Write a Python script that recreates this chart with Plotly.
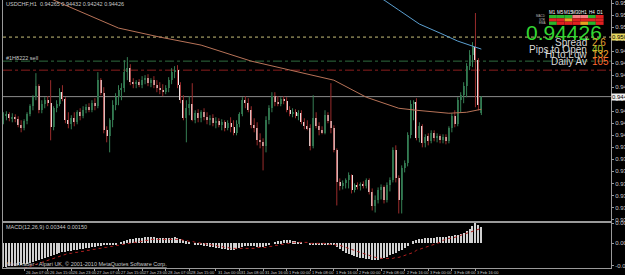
import plotly.graph_objects as go

# ---------------- data ----------------
bars = list(range(164))
opens = [0.9424,0.9419,0.9423,0.9425,0.9421,0.9422,0.9420,0.9414,0.9411,0.9418,
         0.9425,0.9433,0.9442,0.9453,0.9429,0.9435,0.9439,0.9436,0.9412,0.9431,
         0.9435,0.9447,0.9440,0.9419,0.9415,0.9421,0.9417,0.9427,0.9423,0.9429,
         0.9432,0.9429,0.9436,0.9433,0.9459,0.9446,0.9409,0.9403,0.9419,0.9434,
         0.9442,0.9449,0.9451,0.9467,0.9471,0.9457,0.9455,0.9457,0.9454,0.9459,
         0.9461,0.9456,0.9459,0.9454,0.9451,0.9449,0.9447,0.9451,0.9459,0.9467,
         0.9469,0.9454,0.9439,0.9421,0.9431,0.9435,0.9419,0.9426,0.9421,0.9427,
         0.9422,0.9419,0.9421,0.9416,0.9418,0.9414,0.9417,0.9411,0.9416,0.9412,
         0.9406,0.9415,0.9425,0.9439,0.9436,0.9429,0.9414,0.9411,0.9399,0.9397,
         0.9393,0.9419,0.9431,0.9443,0.9437,0.9435,0.9440,0.9438,0.9429,0.9425,
         0.9427,0.9423,0.9426,0.9417,0.9413,0.9411,0.9393,0.9421,0.9413,0.9409,
         0.9406,0.9424,0.9418,0.9411,0.9389,0.9357,0.9353,0.9356,0.9359,0.9364,
         0.9349,0.9354,0.9353,0.9355,0.9353,0.9359,0.9347,0.9333,0.9339,0.9349,
         0.9352,0.9339,0.9354,0.9359,0.9389,0.9361,0.9339,0.9371,0.9376,0.9404,
         0.9435,0.9437,0.9401,0.9413,0.9396,0.9403,0.9398,0.9406,0.9401,0.9403,
         0.9399,0.9402,0.9398,0.9411,0.9423,0.9415,0.9439,0.9444,0.9453,0.9473,
         0.9484,0.9492,0.9479,0.94265]
highs = [0.9429,0.9427,0.9428,0.9427,0.9426,0.9425,0.9423,0.9419,0.9420,0.9427,
         0.9435,0.9444,0.9466,0.9455,0.9439,0.9442,0.9443,0.9459,0.9433,0.9439,
         0.9451,0.9454,0.9442,0.9427,0.9424,0.9427,0.9429,0.9431,0.9433,0.9435,
         0.9436,0.9439,0.9441,0.9467,0.9461,0.9452,0.9413,0.9421,0.9439,0.9446,
         0.9454,0.9456,0.9479,0.9482,0.9475,0.9461,0.9459,0.9460,0.9463,0.9464,
         0.9465,0.9461,0.9463,0.9459,0.9457,0.9455,0.9454,0.9462,0.9471,0.9473,
         0.9474,0.9457,0.9444,0.9439,0.9443,0.9456,0.9429,0.9430,0.9429,0.9431,
         0.9427,0.9424,0.9425,0.9422,0.9421,0.9420,0.9419,0.9419,0.9422,0.9419,
         0.9419,0.9427,0.9442,0.9443,0.9441,0.9433,0.9421,0.9417,0.9406,0.9401,
         0.9423,0.9434,0.9447,0.9447,0.9443,0.9442,0.9443,0.9442,0.9433,0.9431,
         0.9430,0.9429,0.9429,0.9421,0.9419,0.9415,0.9444,0.9427,0.9417,0.9413,
         0.9429,0.9427,0.9456,0.9414,0.9391,0.9361,0.9359,0.9361,0.9367,0.9365,
         0.9356,0.9357,0.9357,0.9358,0.9361,0.9361,0.9351,0.9344,0.9352,0.9355,
         0.9354,0.9357,0.9362,0.9392,0.9394,0.9364,0.9374,0.9379,0.9407,0.9439,
         0.9439,0.9441,0.9417,0.9415,0.9405,0.9406,0.9409,0.9409,0.9406,0.9405,
         0.9405,0.9405,0.9413,0.9426,0.9429,0.9442,0.9447,0.9457,0.9476,0.9489,
         0.9497,0.9526,0.9481,0.94432]
lows =  [0.9414,0.9415,0.9419,0.9418,0.9417,0.9417,0.9412,0.9407,0.9409,0.9415,
         0.9423,0.9429,0.9439,0.9426,0.9426,0.9431,0.9433,0.9399,0.9409,0.9427,
         0.9433,0.9438,0.9416,0.9411,0.9410,0.9413,0.9415,0.9419,0.9421,0.9426,
         0.9427,0.9427,0.9429,0.9431,0.9444,0.9406,0.9397,0.9387,0.9412,0.9429,
         0.9434,0.9439,0.9447,0.9459,0.9454,0.9451,0.9451,0.9452,0.9451,0.9455,
         0.9453,0.9452,0.9451,0.9447,0.9445,0.9443,0.9445,0.9447,0.9455,0.9461,
         0.9451,0.9436,0.9419,0.9397,0.9424,0.9418,0.9416,0.9417,0.9417,0.9419,
         0.9415,0.9414,0.9413,0.9411,0.9412,0.9409,0.9408,0.9409,0.9407,0.9404,
         0.9404,0.9412,0.9423,0.9431,0.9427,0.9411,0.9407,0.9394,0.9391,0.9369,
         0.9387,0.9415,0.9427,0.9433,0.9433,0.9433,0.9435,0.9427,0.9423,0.9422,
         0.9421,0.9419,0.9415,0.9410,0.9409,0.9389,0.9391,0.9411,0.9404,0.9405,
         0.9405,0.9416,0.9406,0.9387,0.9334,0.9349,0.9350,0.9351,0.9351,0.9346,
         0.9347,0.9350,0.9349,0.9351,0.9351,0.9345,0.9329,0.9327,0.9336,0.9340,
         0.9336,0.9337,0.9348,0.9357,0.9357,0.9326,0.9326,0.9367,0.9373,0.9401,
         0.9419,0.9399,0.9397,0.9392,0.9392,0.9394,0.9396,0.9398,0.9397,0.9396,
         0.9396,0.9395,0.9396,0.9407,0.9412,0.9413,0.9427,0.9436,0.9442,0.9469,
         0.9472,0.9432,0.9429,0.94242]
closes = [0.9419,0.9423,0.9425,0.9421,0.9422,0.9420,0.9414,0.9411,0.9418,0.9425,
          0.9433,0.9442,0.9453,0.9429,0.9435,0.9439,0.9436,0.9412,0.9431,0.9435,
          0.9447,0.9440,0.9419,0.9415,0.9421,0.9417,0.9427,0.9423,0.9429,0.9432,
          0.9429,0.9436,0.9433,0.9459,0.9446,0.9409,0.9403,0.9419,0.9434,0.9442,
          0.9449,0.9451,0.9467,0.9471,0.9457,0.9455,0.9457,0.9454,0.9459,0.9461,
          0.9456,0.9459,0.9454,0.9451,0.9449,0.9447,0.9451,0.9459,0.9467,0.9469,
          0.9454,0.9439,0.9421,0.9431,0.9435,0.9419,0.9426,0.9421,0.9427,0.9422,
          0.9419,0.9421,0.9416,0.9418,0.9414,0.9417,0.9411,0.9416,0.9412,0.9406,
          0.9415,0.9425,0.9439,0.9436,0.9429,0.9414,0.9411,0.9399,0.9397,0.9393,
          0.9419,0.9431,0.9443,0.9437,0.9435,0.9440,0.9438,0.9429,0.9425,0.9427,
          0.9423,0.9426,0.9417,0.9413,0.9411,0.9393,0.9421,0.9413,0.9409,0.9406,
          0.9424,0.9418,0.9411,0.9389,0.9357,0.9353,0.9356,0.9359,0.9364,0.9349,
          0.9354,0.9353,0.9355,0.9353,0.9359,0.9347,0.9333,0.9339,0.9349,0.9352,
          0.9339,0.9354,0.9359,0.9389,0.9361,0.9339,0.9371,0.9376,0.9404,0.9435,
          0.9437,0.9401,0.9413,0.9396,0.9402,0.9398,0.9406,0.9401,0.9403,0.9399,
          0.9402,0.9398,0.9411,0.9423,0.9415,0.9439,0.9444,0.9453,0.9473,0.9484,
          0.9492,0.9479,0.9434,0.94426]

# moving averages (read at sample bars)
ma_slow_x = [14, 18, 30, 40, 54, 68, 85, 101, 113, 124, 135, 141, 152, 158, 163]
ma_slow_y = [0.9544, 0.9539, 0.9524, 0.9511, 0.9502, 0.9494, 0.9478, 0.9467, 0.9459,
             0.9442, 0.9431, 0.9429, 0.9426, 0.9427, 0.9430]
ma_fast_x = [128, 130, 135, 142, 149, 155, 160, 163]
ma_fast_y = [0.9542, 0.9539, 0.9529, 0.9515, 0.9506, 0.9498, 0.9493, 0.9490]

# MACD(12,26,9)
macd = [-0.00293,-0.00293,-0.00293,-0.00281,-0.00281,-0.00281,-0.00268,-0.00268,-0.00256,-0.00256,
        -0.00244,-0.00232,-0.00220,-0.00207,-0.00195,-0.00183,-0.00171,-0.00159,-0.00146,-0.00134,
        -0.00122,-0.00110,-0.00110,-0.00098,-0.00098,-0.00085,-0.00085,-0.00073,-0.00073,-0.00061,
        -0.00061,-0.00049,-0.00049,-0.00037,-0.00037,-0.00024,-0.00024,-0.00024,-0.00012,-0.00012,
        0.00000,0.00012,0.00024,0.00037,0.00049,0.00049,0.00061,0.00061,0.00061,0.00073,
        0.00073,0.00073,0.00073,0.00061,0.00061,0.00061,0.00061,0.00061,0.00061,0.00073,
        0.00061,0.00049,0.00037,0.00024,0.00012,0.00000,-0.00012,-0.00024,-0.00024,-0.00037,
        -0.00037,-0.00049,-0.00049,-0.00061,-0.00061,-0.00073,-0.00073,-0.00085,-0.00085,-0.00085,
        -0.00073,-0.00061,-0.00049,-0.00037,-0.00037,-0.00037,-0.00037,-0.00049,-0.00049,-0.00049,
        -0.00037,-0.00024,0.00000,0.00012,0.00024,0.00024,0.00037,0.00037,0.00037,0.00024,
        0.00024,0.00012,0.00012,0.00000,0.00000,-0.00012,-0.00012,-0.00012,-0.00012,-0.00012,
        -0.00012,-0.00012,-0.00012,-0.00024,-0.00049,-0.00073,-0.00098,-0.00122,-0.00134,-0.00146,
        -0.00159,-0.00171,-0.00183,-0.00183,-0.00195,-0.00195,-0.00207,-0.00207,-0.00207,-0.00195,
        -0.00183,-0.00171,-0.00146,-0.00134,-0.00122,-0.00098,-0.00085,-0.00061,-0.00037,0.00000,
        0.00024,0.00037,0.00049,0.00049,0.00061,0.00061,0.00061,0.00061,0.00073,0.00073,
        0.00073,0.00073,0.00085,0.00085,0.00098,0.00098,0.00110,0.00122,0.00146,0.00171,
        0.00207,0.00244,0.00220,0.00195]
signal = [-0.00366,-0.00366,-0.00354,-0.00354,-0.00342,-0.00342,-0.00329,-0.00317,-0.00305,-0.00293,
          -0.00281,-0.00268,-0.00256,-0.00244,-0.00232,-0.00220,-0.00207,-0.00195,-0.00183,-0.00171,
          -0.00159,-0.00146,-0.00134,-0.00122,-0.00122,-0.00110,-0.00110,-0.00098,-0.00098,-0.00085,
          -0.00085,-0.00073,-0.00073,-0.00061,-0.00061,-0.00049,-0.00049,-0.00037,-0.00037,-0.00024,
          -0.00024,-0.00012,-0.00012,0.00000,0.00000,0.00012,0.00012,0.00024,0.00024,0.00037,
          0.00037,0.00049,0.00049,0.00049,0.00049,0.00049,0.00049,0.00049,0.00049,0.00049,
          0.00049,0.00049,0.00037,0.00037,0.00024,0.00024,0.00012,0.00012,0.00000,0.00000,
          -0.00012,-0.00012,-0.00024,-0.00024,-0.00037,-0.00037,-0.00049,-0.00049,-0.00061,-0.00061,
          -0.00061,-0.00061,-0.00061,-0.00061,-0.00061,-0.00061,-0.00061,-0.00049,-0.00049,-0.00049,
          -0.00049,-0.00037,-0.00037,-0.00024,-0.00024,-0.00012,-0.00012,0.00000,0.00000,0.00012,
          0.00012,0.00012,0.00012,0.00012,0.00012,0.00000,0.00000,0.00000,0.00000,0.00000,
          0.00000,-0.00012,-0.00012,-0.00012,-0.00024,-0.00024,-0.00037,-0.00049,-0.00061,-0.00073,
          -0.00085,-0.00098,-0.00110,-0.00122,-0.00134,-0.00146,-0.00159,-0.00171,-0.00171,-0.00183,
          -0.00183,-0.00183,-0.00183,-0.00183,-0.00171,-0.00171,-0.00159,-0.00146,-0.00134,-0.00122,
          -0.00110,-0.00085,-0.00073,-0.00061,-0.00049,-0.00037,-0.00024,-0.00012,0.00000,0.00012,
          0.00037,0.00049,0.00061,0.00061,0.00073,0.00085,0.00098,0.00110,0.00122,0.00134,
          0.00146,0.00159,0.00171,0.00183]

date_bars = [0, 8, 16, 24, 32, 40, 48, 56, 64, 73, 81, 89, 97, 105, 113, 121, 129, 137, 145, 153, 161]
date_labels = ["25 Jan 2011", "26 Jan 07:00", "26 Jan 15:00", "26 Jan 23:00", "27 Jan 07:00",
               "27 Jan 15:00", "27 Jan 23:00", "28 Jan 07:00", "28 Jan 15:00", "31 Jan 00:00",
               "31 Jan 08:00", "31 Jan 16:00", "1 Feb 00:00", "1 Feb 08:00", "1 Feb 16:00",
               "2 Feb 00:00", "2 Feb 08:00", "2 Feb 16:00", "3 Feb 00:00", "3 Feb 08:00", "3 Feb 16:00"]

price_ticks = [0.9320, 0.9332, 0.9344, 0.9356, 0.9368, 0.9380, 0.9392, 0.9404, 0.9416, 0.9428,
               0.9440, 0.9452, 0.9464, 0.9476, 0.9488, 0.9500, 0.9512, 0.9524, 0.9536]
bid = 0.94426
level_yellow = 0.9502
level_green = 0.9478
level_red = 0.9469
macd_ticks = [0.00246, 0.0, -0.00273]
macd_tick_text = ["0.00246", "0.00", "-0.00273"]

panel_rows = ["MACD", "STR", "EMA"]
panel_cols = ["M1", "M5", "M15", "M30", "H1", "H4", "D1"]
panel_colors = [["#2bb52b", "#2bb52b", "#2bb52b", "#f08080", "#f08080", "#2bb52b", "#e02020"],
                ["#e02020", "#e02020", "#e8a020", "#e02020", "#e02020", "#e02020", "#e02020"],
                ["#2bb52b", "#e02020", "#e02020", "#e02020", "#e8a020", "#2bb52b", "#e02020"]]
info_labels = ["Spread", "Pips to Open", "Hi to Low", "Daily Av"]
info_values = ["2.6", "40", "132", "105"]
info_colors = ["#e0a030", "#a8d030", "#f0a030", "#ff6a30"]

# ---------------- figure ----------------
BULL_BODY, BULL_WICK = "#2b6645", "#367f54"
BEAR_BODY, BEAR_WICK = "#f3ecec", "#9a2c2c"
GRID = "#9a9a9a"
TXT = "#c8c8c8"

fig = go.Figure()

# wicks
for bull in (True, False):
    wx, wy = [], []
    for i, o, h, l, c in zip(bars, opens, highs, lows, closes):
        if (c >= o) == bull:
            wx += [i, i, None]
            wy += [l, h, None]
    fig.add_trace(go.Scatter(x=wx, y=wy, mode="lines", xaxis="x", yaxis="y",
                             line=dict(color=BULL_WICK if bull else BEAR_WICK, width=1),
                             hoverinfo="skip"))
# bodies
body_base = [min(o, c) for o, c in zip(opens, closes)]
body_h = [max(abs(c - o), 0.00006) for o, c in zip(opens, closes)]
body_col = [BULL_BODY if c >= o else BEAR_BODY for o, c in zip(opens, closes)]
fig.add_trace(go.Bar(x=bars, y=body_h, base=body_base, width=0.68, xaxis="x", yaxis="y",
                     marker=dict(color=body_col, line=dict(width=0))))

# moving averages
fig.add_trace(go.Scatter(x=ma_slow_x, y=ma_slow_y, mode="lines", xaxis="x", yaxis="y",
                         line=dict(color="#b87358", width=1)))
fig.add_trace(go.Scatter(x=ma_fast_x, y=ma_fast_y, mode="lines", xaxis="x", yaxis="y",
                         line=dict(color="#5b9fd0", width=1)))

# MACD
fig.add_trace(go.Bar(x=bars, y=macd, width=0.35, xaxis="x2", yaxis="y2",
                     marker=dict(color="#d0d0d0", line=dict(width=0))))
fig.add_trace(go.Scatter(x=bars, y=signal, mode="lines", xaxis="x2", yaxis="y2",
                         line=dict(color="#b02020", width=1, dash="dot")))

XR = [0.847, 206.95]
main_dom = [0.1735, 1.0]
macd_dom = [0.0, 0.1716]

fig.update_layout(
    width=625, height=275,
    margin=dict(l=3, r=14, t=0, b=7, autoexpand=False),
    paper_bgcolor="black", plot_bgcolor="black",
    showlegend=False, bargap=0,
    font=dict(family="Liberation Sans, Arial, sans-serif", color=TXT, size=6),
    xaxis=dict(domain=[0, 1], range=XR, anchor="y", showticklabels=False, ticks="",
               showgrid=False, zeroline=False, showline=True, linecolor=GRID, mirror=True,
               automargin=False),
    xaxis2=dict(domain=[0, 1], range=XR, anchor="y2", matches="x", showticklabels=False,
                tickvals=date_bars, ticks="outside", ticklen=2, tickcolor=GRID,
                showgrid=False, zeroline=False, showline=True, linecolor=GRID, mirror=True,
                automargin=False),
    yaxis=dict(domain=main_dom, range=[0.9318, 0.9539], side="right", anchor="x",
               tickvals=price_ticks, tickformat=".5f", ticks="outside", ticklen=2,
               tickcolor=GRID, tickfont=dict(size=6, color=TXT), automargin=False,
               showgrid=False, zeroline=False, showline=True, linecolor=GRID, mirror=True),
    yaxis2=dict(domain=macd_dom, range=[-0.00300, 0.00260], side="right", anchor="x2",
                tickvals=macd_ticks, ticktext=macd_tick_text, ticks="outside", ticklen=2,
                tickcolor=GRID, tickfont=dict(size=6, color=TXT), automargin=False,
                showgrid=False, zeroline=False, showline=True, linecolor=GRID, mirror=True),
)

# horizontal levels
def hline(y, color, dash, width=1):
    fig.add_shape(type="line", xref="x domain", yref="y", x0=0, x1=1, y0=y, y1=y,
                  line=dict(color=color, width=width, dash=dash), layer="below")

hline(level_yellow, "#c9c07a", "dot")
hline(level_green, "#2f6b3f", "dashdot")
hline(level_red, "#8b1e1e", "dashdot")
hline(bid, "#8c8c8c", "solid")

# axis flags for yellow level and bid
fig.add_annotation(xref="paper", yref="y", x=1.0, y=level_yellow, xanchor="left",
                   text="0.95020", showarrow=False, bgcolor="#e8d860",
                   font=dict(size=6, color="black"), borderpad=0)
fig.add_annotation(xref="paper", yref="y", x=1.0, y=bid, xanchor="left",
                   text="0.94426", showarrow=False, bgcolor="#f0f0f0",
                   font=dict(size=6, color="black"), borderpad=0)

# date labels
for b, t in zip(date_bars, date_labels):
    fig.add_annotation(xref="x2", yref="paper", x=b, y=0, xanchor="left", yanchor="top",
                       xshift=0, yshift=0, text=t, showarrow=False,
                       font=dict(size=4, color=TXT))

def px(x, y):
    return (x - 3) / 608, (268 - y) / 268

# texts
def txt(x, y, s, size=6, color=TXT, xanchor="left", yanchor="middle", family=None):
    xp, yp = px(x, y)
    f = dict(size=size, color=color)
    if family:
        f["family"] = family
    fig.add_annotation(xref="paper", yref="paper", x=xp, y=yp, xanchor=xanchor,
                       yanchor=yanchor, text=s, showarrow=False, font=f)

txt(4, 4, "USDCHF,H1  0.94265 0.94432 0.94242 0.94426", size=5.5)
txt(4, 58, "#1H8222 sell", size=5.5)
txt(4, 227, "MACD(12,26,9) 0.00344 0.00150", size=5.5)
txt(4, 264, "<u>MetaTrader - Alpari UK, © 2001-2010 MetaQuotes Software Corp.</u>", size=5.5)

txt(604, 33, "0.94426", size=21, color="#33d633", xanchor="right")
for k, (lab, val, col) in enumerate(zip(info_labels, info_values, info_colors)):
    y = 43 + 6 * k
    txt(589, y, lab, size=10, color="#d8d8d8", xanchor="right")
    txt(590, y, val, size=10, color=col, xanchor="left")

# MTF panel
cw = 7.8
for c, name in enumerate(panel_cols):
    txt(549 + cw * c + cw / 2, 12, name, size=4.5, color="white", xanchor="center")
for r, rowname in enumerate(panel_rows):
    txt(548, 16.5 + 3.3 * r, rowname, size=3, color="#bbbbbb", xanchor="right")
    for c in range(len(panel_cols)):
        x0, y0 = px(549 + cw * c, 15 + 3.3 * r)
        x1, y1 = px(549 + cw * (c + 1), 15 + 3.3 * (r + 1))
        fig.add_shape(type="rect", xref="paper", yref="paper", x0=x0, x1=x1, y0=y1, y1=y0,
                      line=dict(width=0), fillcolor=panel_colors[r][c])

fig.write_html("out.html")
